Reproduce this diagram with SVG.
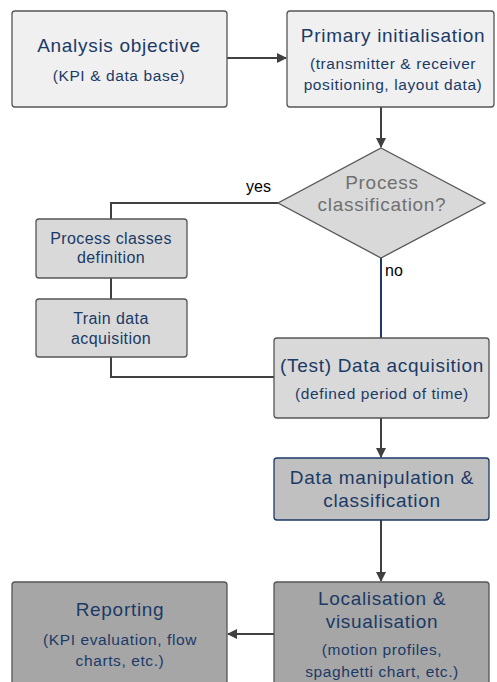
<svg xmlns="http://www.w3.org/2000/svg" width="497" height="682" viewBox="0 0 497 682">
<style>
text{font-family:"Liberation Sans",Arial,sans-serif;text-anchor:middle;fill:#1b3a66}
.t{font-size:19px;letter-spacing:0.7px}
.s{font-size:15.5px;letter-spacing:0.6px}
.m{font-size:16px;letter-spacing:0.4px}
.box{stroke:#555;stroke-width:1.3}
.ln{fill:none;stroke:#404040;stroke-width:2}
.lbl{font-size:16px;fill:#000;text-anchor:start}
</style>
<defs>
<marker id="ah" viewBox="0 0 10 10" refX="9" refY="5" markerWidth="5" markerHeight="5" orient="auto" markerUnits="strokeWidth">
<path d="M0,0 L10,5 L0,10 z" fill="#404040"/>
</marker>
</defs>
<g id="connectors">
<line class="ln" x1="227" y1="58" x2="286" y2="58" marker-end="url(#ah)"/>
<line class="ln" x1="381" y1="107" x2="381" y2="147" marker-end="url(#ah)"/>
<polyline class="ln" points="278,203 111,203 111,219"/>
<line class="ln" x1="111" y1="278" x2="111" y2="299"/>
<polyline class="ln" points="111,357 111,377 274,377"/>
<line x1="381" y1="258" x2="381" y2="338" stroke="#1b3a66" stroke-width="2"/>
<line class="ln" x1="381" y1="418" x2="381" y2="457" marker-end="url(#ah)"/>
<line class="ln" x1="381" y1="520" x2="381" y2="581" marker-end="url(#ah)"/>
<line class="ln" x1="274" y1="634" x2="228" y2="634" marker-end="url(#ah)"/>
<text class="lbl" x="246" y="192">yes</text>
<text class="lbl" x="385" y="276">no</text>
</g>
<g id="analysis">
<rect class="box" x="12" y="11" width="215" height="96" rx="3" fill="#f0f0f0"/>
<text class="t" x="119" y="52">Analysis objective</text>
<text class="s" x="119" y="81">(KPI &amp; data base)</text>
</g>
<g id="primary">
<rect class="box" x="287" y="11" width="207" height="96" rx="3" fill="#f0f0f0"/>
<text class="t" x="393" y="42">Primary initialisation</text>
<text class="s" x="393" y="69">(transmitter &amp; receiver</text>
<text class="s" x="393" y="90">positioning, layout data)</text>
</g>
<g id="decision">
<polygon points="381,148 485,203 381,258 278,203" fill="#d9d9d9" stroke="#555" stroke-width="1.3"/>
<text class="t" x="382" y="189" style="fill:#707070">Process</text>
<text class="t" x="382" y="211" style="fill:#707070">classification?</text>
</g>
<g id="classes">
<rect class="box" x="36" y="219" width="151" height="59" rx="3" fill="#d9d9d9"/>
<text class="m" x="111" y="244">Process classes</text>
<text class="m" x="111" y="263">definition</text>
</g>
<g id="train">
<rect class="box" x="36" y="299" width="151" height="58" rx="3" fill="#d9d9d9"/>
<text class="m" x="111" y="324">Train data</text>
<text class="m" x="111" y="344">acquisition</text>
</g>
<g id="test">
<rect class="box" x="274" y="338" width="215" height="80" rx="3" fill="#d9d9d9"/>
<text class="t" x="382" y="372">(Test) Data acquisition</text>
<text class="s" x="382" y="399">(defined period of time)</text>
</g>
<g id="manipulation">
<rect x="274" y="458" width="215" height="62" rx="3" fill="#c0c0c0" stroke="#1b3a66" stroke-width="1.3"/>
<text class="t" x="382" y="484">Data manipulation &amp;</text>
<text class="t" x="382" y="507">classification</text>
</g>
<g id="localisation">
<rect class="box" x="274" y="582" width="215" height="110" rx="3" fill="#a6a6a6"/>
<text class="t" x="382" y="605">Localisation &amp;</text>
<text class="t" x="382" y="628">visualisation</text>
<text class="s" x="382" y="655">(motion profiles,</text>
<text class="s" x="382" y="677">spaghetti chart, etc.)</text>
</g>
<g id="reporting">
<rect class="box" x="12" y="582" width="215" height="110" rx="3" fill="#a6a6a6"/>
<text class="t" x="120" y="616">Reporting</text>
<text class="s" x="120" y="645">(KPI evaluation, flow</text>
<text class="s" x="120" y="666">charts, etc.)</text>
</g>
</svg>
